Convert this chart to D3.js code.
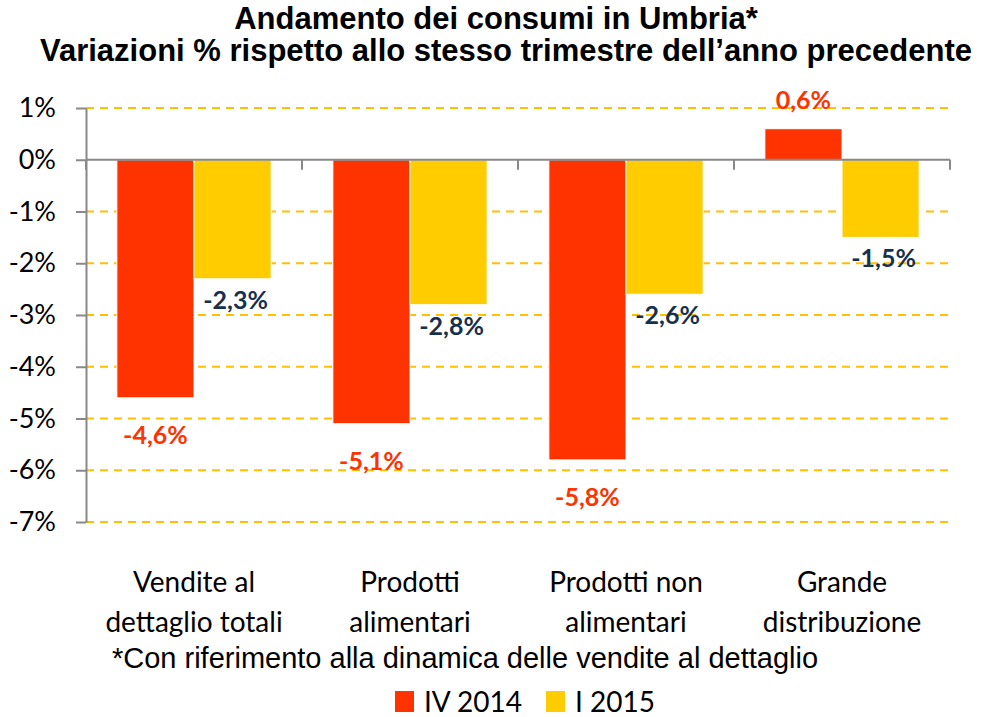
<!DOCTYPE html>
<html>
<head>
<meta charset="utf-8">
<script src="https://cdn.jsdelivr.net/npm/d3@7"></script>
<style>
  body { margin: 0; background: #fff; }
  svg { display: block; }
</style>
</head>
<body>
<svg id="chart" width="996" height="717"></svg>
<script>
// data
const categories = [
  ['Vendite al', 'dettaglio totali'],
  ['Prodotti', 'alimentari'],
  ['Prodotti non', 'alimentari'],
  ['Grande', 'distribuzione']
]
const seriesNames = ['IV 2014', 'I 2015']
const iv2014 = [-4.6, -5.1, -5.8, 0.6]
const i2015 = [-2.3, -2.8, -2.6, -1.5]
const yTicks = [1, 0, -1, -2, -3, -4, -5, -6, -7]

const colors = ['#FF3300', '#FFCC00']
const labelColors = ['#FF3300', '#17304C']

const svg = d3.select('#chart')
const margin = { left: 86, right: 46, top: 108, bottom: 195 }
const W = 996, H = 717

const x = d3.scaleBand()
  .domain(d3.range(categories.length))
  .range([margin.left, W - margin.right])

const x1 = d3.scaleBand()
  .domain([0, 1])
  .range([0, x.bandwidth()])
  .paddingOuter(0.4)

const y = d3.scaleLinear()
  .domain([-7, 1])
  .range([H - margin.bottom, margin.top])

// title
const title = svg.append('text')
  .attr('text-anchor', 'middle')
  .style('font-family', '"Liberation Sans", Arial, sans-serif')
  .style('font-weight', 'bold')
  .style('font-size', '31px')
title.append('tspan').attr('x', 496).attr('y', 29).text('Andamento dei consumi in Umbria*')
title.append('tspan').attr('x', 506).attr('y', 61).text('Variazioni % rispetto allo stesso trimestre dell\u2019anno precedente')

// grid lines
svg.append('g')
  .selectAll('line')
  .data(yTicks.filter(d => d !== 0))
  .join('line')
  .attr('x1', margin.left)
  .attr('x2', W - margin.right)
  .attr('y1', d => y(d))
  .attr('y2', d => y(d))
  .attr('stroke', '#FFC000')
  .attr('stroke-width', 2)
  .attr('stroke-dasharray', '8,6')

// y axis
const yAxis = svg.append('g')
  .attr('transform', `translate(${margin.left},0)`)
  .call(d3.axisLeft(y).tickValues(yTicks).tickSize(10).tickSizeOuter(0).tickPadding(20)
    .tickFormat(d => d + '%'))
yAxis.select('.domain').attr('stroke', '#888').attr('stroke-width', 2)
yAxis.selectAll('.tick line').attr('stroke', '#888').attr('stroke-width', 2)
yAxis.selectAll('.tick text')
  .attr('fill', '#000')
  .style('font-family', 'Lato, "Open Sans", sans-serif')
  .style('font-size', '27px')

// bars
const series = [iv2014, i2015]
series.forEach((vals, s) => {
  const g = svg.append('g')
  g.selectAll('rect')
    .data(vals)
    .join('rect')
    .attr('x', (d, i) => x(i) + x1(s))
    .attr('width', x1.bandwidth())
    .attr('y', d => y(Math.max(0, d)))
    .attr('height', d => Math.abs(y(d) - y(0)))
    .attr('fill', colors[s])
    .attr('stroke', '#fff')
    .attr('stroke-width', 1)

  g.selectAll('text')
    .data(vals)
    .join('text')
    .attr('x', (d, i) => x(i) + x1(s) + x1.bandwidth() / 2 + (s === 1 ? 3 : 0))
    .attr('y', d => d >= 0 ? y(d) - 20 : y(d) + (s === 0 ? 46 : 30))
    .attr('text-anchor', 'middle')
    .attr('fill', labelColors[s])
    .style('font-family', 'Lato, "Open Sans", sans-serif')
    .style('font-weight', 'bold')
    .style('font-size', '25px')
    .text(d => d.toFixed(1).replace('.', ',') + '%')
})

// zero axis with category ticks
const zero = svg.append('g')
zero.append('line')
  .attr('x1', margin.left).attr('x2', W - margin.right)
  .attr('y1', y(0)).attr('y2', y(0))
  .attr('stroke', '#888').attr('stroke-width', 2)
zero.selectAll('line.ct')
  .data(d3.range(categories.length + 1))
  .join('line')
  .attr('class', 'ct')
  .attr('x1', i => i < categories.length ? x(i) : x(i - 1) + x.bandwidth())
  .attr('x2', i => i < categories.length ? x(i) : x(i - 1) + x.bandwidth())
  .attr('y1', y(0)).attr('y2', y(0) + 10)
  .attr('stroke', '#888').attr('stroke-width', 2)

// category labels
const cat = svg.append('g')
  .style('font-family', 'Lato, "Open Sans", sans-serif')
  .style('font-size', '28px')
  .attr('text-anchor', 'middle')
categories.forEach((lines, i) => {
  const t = cat.append('text')
  lines.forEach((l, j) => {
    t.append('tspan')
      .attr('x', x(i) + x.bandwidth() / 2)
      .attr('y', 592 + j * 40)
      .text(l)
  })
})

// footnote
svg.append('text')
  .attr('x', 465).attr('y', 668)
  .attr('text-anchor', 'middle')
  .style('font-family', '"Liberation Sans", Arial, sans-serif')
  .style('font-size', '29px')
  .text('*Con riferimento alla dinamica delle vendite al dettaglio')

// legend
const legendX = [395, 546]
const legend = svg.append('g')
seriesNames.forEach((name, s) => {
  legend.append('rect')
    .attr('x', legendX[s]).attr('y', 691)
    .attr('width', 19).attr('height', 21)
    .attr('fill', colors[s])
  legend.append('text')
    .attr('x', legendX[s] + 29).attr('y', 712)
    .style('font-family', 'Lato, "Open Sans", sans-serif')
    .style('font-size', '28px')
    .text(name)
})
</script>
</body>
</html>
